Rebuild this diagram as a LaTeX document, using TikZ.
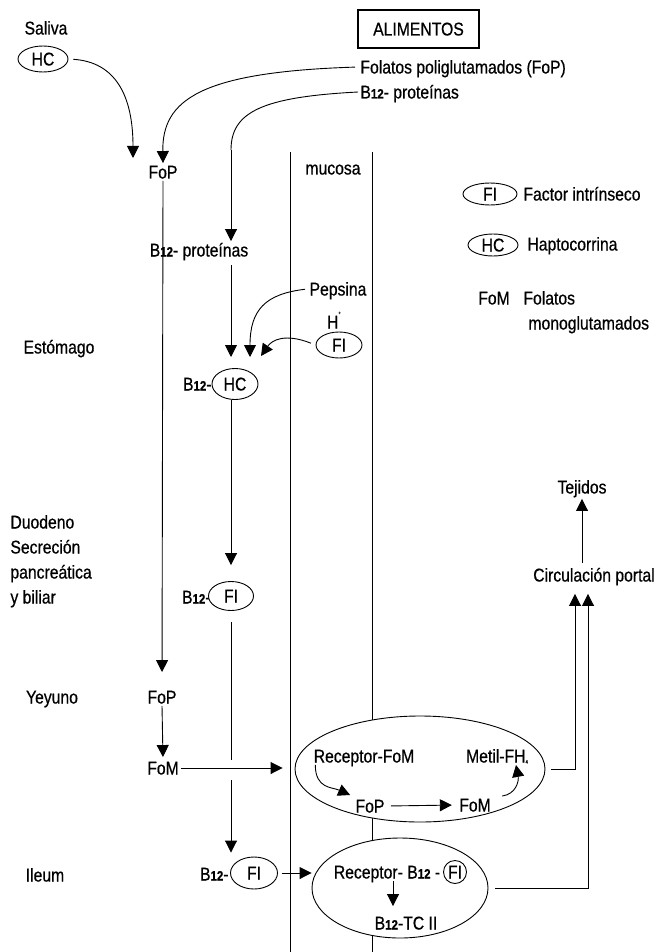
\documentclass[tikz,border=0pt]{standalone}
\usepackage{fontspec}
\setmainfont{Liberation Sans}[FakeStretch=0.85, FakeBold=0.6]
\usetikzlibrary{arrows.meta}
\usetikzlibrary{shapes.geometric}

\newcommand{\bdoce}{B{\fontsize{13.5}{13.5}\selectfont\bfseries 12}}

\tikzset{
  texto/.style={inner sep=2pt, text height=13pt, text depth=0pt},
  ovalo/.style={texto, draw, ellipse, inner sep=0pt, fill=white},
  bolsa/.style={draw, ellipse, fill=white},
  flecha/.style={-{Triangle[width=12pt,length=12pt]}},
}

\begin{document}
\begin{tikzpicture}[x=1pt, y=-1pt, line width=0.9pt, font=\fontsize{18.5}{22}\selectfont]
                \useasboundingbox (0,0) rectangle (656,952);
                \coordinate (colb) at (231,0);
                \coordinate (sube1) at (575,0);
                \coordinate (sube2) at (588,0);
                \coordinate (colr) at (393,0);
                \draw[line width=0.8pt] (290,152) -- (290,952);
                \draw[line width=0.8pt] (372,152) -- (372,952);
                \node[texto] (mucosa) at (333,168) {mucosa};

                \node[texto] (saliva) at (46,28) {Saliva};
                \node[ovalo, minimum width=50pt, minimum height=26pt] (hcsal) at (43,59) {HC};
                \node[texto, draw, line width=1.2pt, minimum width=121pt, minimum height=38pt] (alim) at (418.5,29) {ALIMENTOS};
                \node[texto, anchor=west] (folp) at (358,67) {Folatos poliglutamados (FoP)};
                \node[texto, anchor=west] (b12p) at (358,92) {\bdoce- proteínas};
                \coordinate (salfin) at (133,158);
                \coordinate (codo) at (231,150);
                \node[texto] (fop) at (163,172) {FoP};
                \draw[flecha, shorten <=5pt] (hcsal.east) .. controls (115,62) and (133,95) .. (salfin);
                \draw[flecha, shorten <=3pt] (folp.west) .. controls (200,72) and (162,100) .. (fop.north);
                \draw (b12p.west) .. controls (262,97) and (231,112) .. (codo);

                \node[texto, fill=white] (b12prot) at (199,250) {\bdoce- proteínas};
                \draw[flecha] (codo) -- (b12prot.north -| colb);
                \node[texto] (pepsina) at (338,289) {Pepsina};
                \node[texto] (hmas) at (334,322) {H\raisebox{14pt}{\fontsize{5}{5}\selectfont +}};
                \node[ovalo, minimum width=46pt, minimum height=26pt] (fiest) at (339,345) {FI};
                \node[texto] (estomago) at (59,347) {Estómago};
                \node[texto, anchor=east] (b12hc) at (214,384) {\bdoce-};
                \node[ovalo, minimum width=46pt, minimum height=31pt] (hcest) at (235,384) {HC};
                \coordinate (punta1) at (231,357);
                \coordinate (punta2) at (250,357);
                \coordinate (punta3) at (261,356);
                \draw[flecha, shorten <=6pt] (b12prot.south -| colb) -- (punta1);
                \draw[flecha, shorten <=2pt] (pepsina.west) .. controls (265,294) and (250,310) .. (punta2);
                \draw[flecha, shorten <=5pt] (fiest.west) .. controls (285,333) and (272,340) .. (punta3);

                \node[texto, anchor=west] (duodeno) at (8,522) {Duodeno};
                \node[texto, anchor=west] (secrecion) at (8,547) {Secreción};
                \node[texto, anchor=west] (pancreas) at (8,572) {pancreática};
                \node[texto, anchor=west] (biliar) at (8,597) {y biliar};
                \node[texto, anchor=east] (b12duo) at (213,597) {\bdoce-};
                \node[ovalo, minimum width=45pt, minimum height=29pt] (fiduo) at (231,596) {FI};
                \draw[flecha, shorten >=16pt] (hcest.south -| colb) -- (fiduo.north);

                \node[texto] (yeyuno) at (52,697) {Yeyuno};
                \node[texto] (fopyey) at (162,697) {FoP};
                \node[texto] (fomyey) at (163,768) {FoM};
                \draw[flecha, shorten >=16pt] (fop.south) -- (fopyey.north);
                \draw[flecha, shorten >=2pt] (fopyey.south) -- (fomyey.north);

                \node[texto] (ileum) at (45,875) {Ileum};
                \node[texto, anchor=east] (b12ile) at (231,874) {\bdoce-};
                \node[ovalo, minimum width=47pt, minimum height=32pt] (fiile) at (254,873) {FI};
                \coordinate (corte1) at (231,760);
                \coordinate (corte2) at (231,780);
                \draw[shorten <=11pt] (fiduo.south) -- (corte1);
                \draw[flecha, shorten >=4pt] (corte2) -- (fiile.north -| colb);

                \node[bolsa, minimum width=250pt, minimum height=106pt] (rec1) at (420,769) {};
                \node[texto] (recfom) at (364,756) {Receptor-FoM};
                \node[texto] (metil) at (497,756) {Metil-FH\raisebox{-1pt}{\fontsize{5}{5}\selectfont 4}};
                \node[texto] (fopin) at (370,806) {FoP};
                \node[texto] (fomin) at (475,805) {FoM};
                \draw[flecha, shorten >=12pt] (fomyey.east) -- (fomyey.east -| rec1.west);
                \draw[flecha] ([xshift=4pt]recfom.south west) .. controls +(0,24) and +(-18,-8) .. ([shift={(-3pt,11pt)}]fopin.west);
                \draw[flecha, shorten <=4pt, shorten >=5pt] (fopin.east) -- (fomin.west);
                \draw[flecha] ([xshift=9pt]fomin.north east) .. controls +(14,-2) and +(3,16) .. ([xshift=19pt]metil.south);

                \node[bolsa, minimum width=176pt, minimum height=100pt] (rec2) at (400,888) {};
                \node[texto] (recb12) at (387,872) {Receptor- \bdoce\ -};
                \node[draw, circle, minimum size=23pt, inner sep=0pt, text height=13pt, text depth=0pt] (ficir) at (455,872) {FI};
                \node[texto] (tc2) at (406,923) {\bdoce-TC II};
                \draw[flecha, shorten >=8pt] (recb12.south -| colr) -- (tc2.north -| colr);
                \draw[flecha, shorten <=4pt] (fiile.east) -- (fiile.east -| rec2.west);

                \node[texto] (circ) at (594,575) {Circulación portal};
                \node[texto] (tejidos) at (582,487) {Tejidos};
                \draw[flecha, shorten <=3pt, shorten >=3pt] (circ.north -| tejidos.south) -- (tejidos.south);
                \draw[flecha, shorten <=6pt, shorten >=10pt] (rec1.east) -| (circ.south -| sube1);
                \draw[flecha, shorten <=7pt, shorten >=10pt] (rec2.east) -| (circ.south -| sube2);

                \node[ovalo, minimum width=54pt, minimum height=22pt] (leyfi) at (490,194) {FI};
                \node[texto, anchor=west] (leyfitx) at (521,194) {Factor intrínseco};
                \node[ovalo, minimum width=50pt, minimum height=22pt] (leyhc) at (493,245) {HC};
                \node[texto, anchor=west] (leyhctx) at (525,244) {Haptocorrina};
                \node[texto] (leyfom) at (494,298) {FoM};
                \node[texto, anchor=west] (leyfomtx) at (521,298) {Folatos};
                \node[texto, anchor=west] (leyfomtx2) at (526,323) {monoglutamados};
\end{tikzpicture}
\end{document}
